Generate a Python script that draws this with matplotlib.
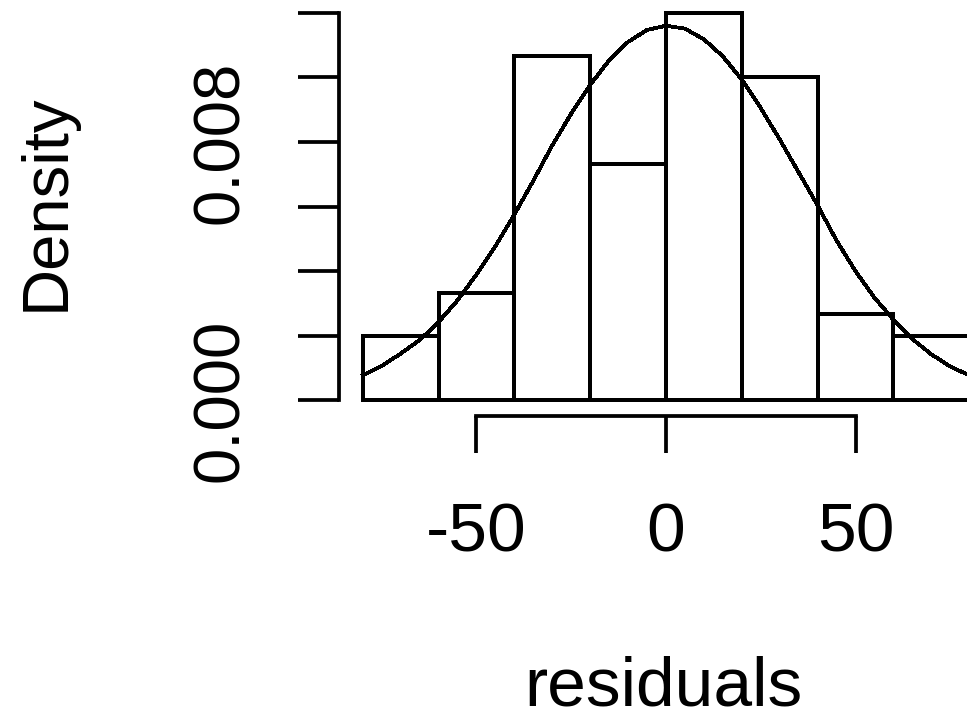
import matplotlib
matplotlib.use("Agg")
import matplotlib.pyplot as plt
from matplotlib import font_manager

# histogram of residuals (density scale), bins of width 20
bin_edges = [-80, -60, -40, -20, 0, 20, 40, 60, 80]
density = [0.00200, 0.00333, 0.01067, 0.00733, 0.01200, 0.01000, 0.00267, 0.00200]

# fitted normal curve, every 5 units
curve_x = [-80, -75, -70, -65, -60, -55, -50, -45, -40, -35, -30, -25, -20, -15, -10, -5,
           0, 5, 10, 15, 20, 25, 30, 35, 40, 45, 50, 55, 60, 65, 70, 75, 80]
curve_y = [0.00078, 0.00107, 0.00145, 0.00187, 0.00243, 0.00310, 0.00390, 0.00478,
           0.00576, 0.00680, 0.00790, 0.00888, 0.00977, 0.01053, 0.01110, 0.01147,
           0.01160, 0.01151, 0.01118, 0.01065, 0.00993, 0.00905, 0.00808, 0.00706,
           0.00604, 0.00495, 0.00400, 0.00318, 0.00250, 0.00190, 0.00143, 0.00105, 0.00078]

x_ticks = [-50, 0, 50]
x_tick_labels = ["-50", "0", "50"]
y_ticks = [0.000, 0.002, 0.004, 0.006, 0.008, 0.010, 0.012]
y_tick_labels = ["0.000", "", "", "", "0.008", "", ""]

W, H = 967, 711
fig = plt.figure(figsize=(W / 100, H / 100), dpi=100)
fig.patch.set_facecolor("white")

# R plot region, partly outside the cropped picture
ax = fig.add_axes([338.5 / W, (H - 416) / H, 655 / W, 418.7 / H])
ax.set_xlim(-86.4, 86.4)
ax.set_ylim(-0.00048, 0.01248)

lw = 2.7
ax.bar(bin_edges[:-1], density, width=20, align="edge", fill=False,
       edgecolor="black", linewidth=lw, antialiased=False)
ax.plot(curve_x, curve_y, color="black", linewidth=2.0, antialiased=False)

for side in ["top", "right"]:
    ax.spines[side].set_visible(False)
ax.spines["left"].set_bounds(0, 0.012)
ax.spines["bottom"].set_bounds(-50, 50)
ax.spines["left"].set_linewidth(lw)
ax.spines["bottom"].set_linewidth(lw)

# narrow face fits the rotated labels better, if there is one
names = {f.name for f in font_manager.fontManager.ttflist}
if "Liberation Sans Narrow" in names:
    yfont, ysize = "Liberation Sans Narrow", 54
else:
    yfont, ysize = "Liberation Sans", 47
xfont, xsize = "Liberation Sans", 50

ax.set_xticks(x_ticks)
ax.set_xticklabels(x_tick_labels, family=xfont, fontsize=xsize, va="baseline")
ax.tick_params(axis="x", direction="out", length=26.6, width=lw, pad=70.6)

ax.set_yticks(y_ticks)
ax.set_yticklabels(y_tick_labels, family=yfont, fontsize=ysize, rotation=90,
                   rotation_mode="anchor", ha="center", va="baseline")
ax.tick_params(axis="y", direction="out", length=29.5, width=lw, pad=43)

fig.text(64 / W, 1 - 202 / H, "Density", family=yfont, fontsize=ysize, rotation=90,
         rotation_mode="anchor", ha="center", va="baseline")
fig.text(663 / W, 1 - 706 / H, "residuals", family=xfont, fontsize=xsize,
         ha="center", va="baseline")

fig.savefig("out.png", dpi=100)
